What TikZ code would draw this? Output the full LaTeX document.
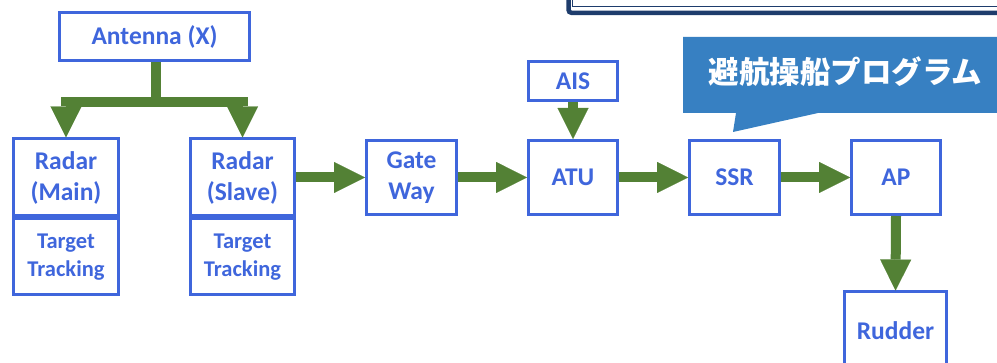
\documentclass[tikz,border=0pt]{standalone}
\usepackage{fontspec}
\setmainfont{Carlito}
\newfontfamily\jpfont{Noto Sans CJK JP}
\usetikzlibrary{arrows.meta}
\definecolor{boxblue}{HTML}{3F66DC}
\definecolor{agreen}{HTML}{538135}
\definecolor{callblue}{HTML}{3780C2}
\definecolor{navy}{HTML}{1E3C6C}
\tikzset{
  box/.style={draw=boxblue, line width=3pt, text=boxblue, align=center, inner sep=0pt,
    font=\bfseries\fontsize{25.5}{31}\selectfont},
  smallbox/.style={box, font=\bfseries\fontsize{22.5}{27.5}\selectfont},
  gline/.style={draw=agreen, line width=10pt, line join=miter},
  gtip/.style={Triangle[width=31pt,length=31pt,line width=0.01pt]},
  garrow/.style={gline, -{Triangle[width=31pt,length=31pt,line width=0.01pt]}},
}
\begin{document}
\begin{tikzpicture}[x=1pt,y=-1pt]
\clip (0,0) rectangle (997,363);
% top frame (partially visible)
\draw[navy, line width=4.5pt, rounded corners=3pt] (568.5,-40) rectangle (1010,12.8);
\draw[navy, line width=1.3pt] (572.5,-40) rectangle (1010,6.5);
% callout
\fill[callblue] (683,37) -- (1010,37) -- (1010,113) -- (818,113) -- (733,132) -- (736,113) -- (683,113) -- cycle;
\node[text=white, font=\jpfont\bfseries\fontsize{30.5}{34}\selectfont, inner sep=0pt] (prog) at (845.5,72) {避航操船プログラム};
% boxes
\node[box, minimum width=190, minimum height=48] (ant) at (154.5,36.5) {Antenna (X)};
\node[box, minimum width=105, minimum height=77] (main) at (66,177.5) {Radar\\(Main)};
\node[smallbox, minimum width=105, minimum height=76, anchor=north] (maint) at (main.south) {Target\\Tracking};
\node[box, minimum width=104, minimum height=77] (slave) at (242.5,177.5) {Radar\\(Slave)};
\node[smallbox, minimum width=104, minimum height=76, anchor=north] (slavet) at (slave.south) {Target\\Tracking};
\node[box, minimum width=90, minimum height=74] (gate) at (411.5,177.5) {Gate\\Way};
\node[box, minimum width=89, minimum height=39] (ais) at (573,81) {AIS};
\node[box, minimum width=89, minimum height=74] (atu) at (573,177.5) {ATU};
\node[box, minimum width=90, minimum height=74] (ssr) at (734.5,177.5) {SSR};
\node[box, minimum width=89, minimum height=74] (ap) at (896,177.5) {AP};
\node[box, minimum width=102, minimum height=78, anchor=north] (rud) at (895.5,290.5) {Rudder};
\path (rud.north) ++(0,38) coordinate (rudtext);
% connectors
\coordinate (fork) at (155.5,102);
\draw[gline] (ant.south -| fork) -- (fork);
\draw[gline, {Triangle[width=31pt,length=31pt,line width=0.01pt]}-{Triangle[width=31pt,length=31pt,line width=0.01pt]}]
  (main.north) -- (main.north |- fork) -- (slave.north |- fork) -- (slave.north);
\draw[garrow] (slave.east) -- (gate.west);
\draw[garrow] (gate.east) -- (atu.west);
\draw[garrow] (ais.south) -- (atu.north);
\draw[garrow] (atu.east) -- (ssr.west);
\draw[garrow] (ssr.east) -- (ap.west);
\draw[garrow] (ap.south) -- (rud.north);
\end{tikzpicture}
\end{document}
